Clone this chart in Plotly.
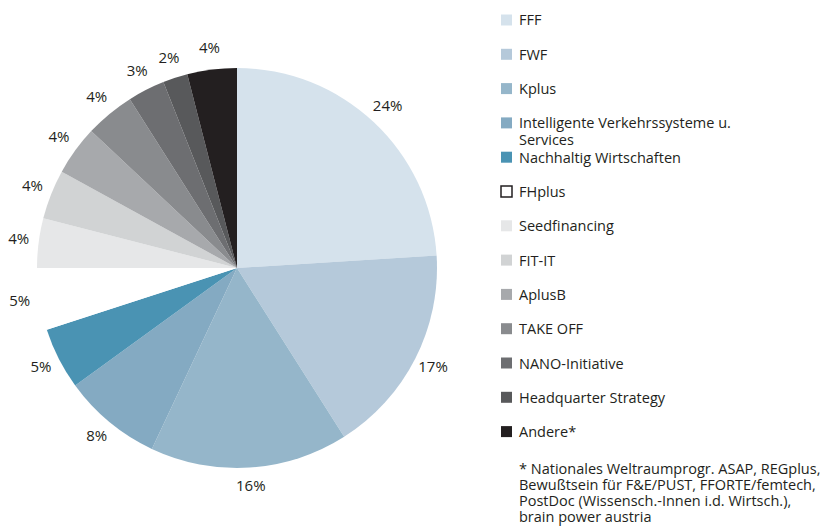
import plotly.graph_objects as go

W, H = 836, 532
OFF = 8  # the page body adds an 8px margin around the figure

labels = [
    "FFF", "FWF", "Kplus", "Intelligente Verkehrssysteme u.<br>Services",
    "Nachhaltig Wirtschaften", "FHplus", "Seedfinancing", "FIT-IT", "AplusB",
    "TAKE OFF", "NANO-Initiative", "Headquarter Strategy", "Andere*",
]
shares = [24, 17, 16, 8, 5, 5, 4, 4, 4, 4, 3, 2, 4]
colors = [
    "#d5e2ec", "#b5c9da", "#95b6ca", "#84aac2", "#4a93b3", "#ffffff",
    "#e6e7e8", "#d1d3d4", "#a7a9ac", "#898b8e", "#6d6e71", "#58595b", "#231f20",
]
footnote = [
    "* Nationales Weltraumprogr. ASAP, REGplus,",
    "Bewußtsein für F&E/PUST, FFORTE/femtech,",
    "PostDoc (Wissensch.-Innen i.d. Wirtsch.),",
    "brain power austria",
]

FONT = "Open Sans"
TXT = "#231f20"


def px(x):
    return (x - OFF) / W


def py(y):
    return 1 - (y - OFF) / H


# pie centre and radius in page pixels
CX, CY, R = 237, 268, 200
RMAX = 1.12

fig = go.Figure()
fig.add_trace(go.Pie(
    labels=labels,
    values=shares,
    sort=False,
    direction="clockwise",
    rotation=0,
    marker=dict(colors=colors, line=dict(width=0)),
    textinfo="none",
    hoverinfo="label+value",
    showlegend=False,
    domain=dict(x=[px(CX - R), px(CX + R)], y=[py(CY + R), py(CY - R)]),
))

# percent labels just outside each slice, at the slice's mid angle
total = sum(shares)
mid_angles, acc = [], 0
for s in shares:
    mid_angles.append((acc + s / 2) / total * 360)
    acc += s

fig.add_trace(go.Scatterpolar(
    r=[1.1] * len(shares),
    theta=mid_angles,
    mode="text",
    text=[f"{s}%" for s in shares],
    textposition="middle center",
    textfont=dict(family=FONT, size=15, color=TXT),
    cliponaxis=False,
    hoverinfo="skip",
    showlegend=False,
))

rp = R * RMAX
fig.update_layout(polar=dict(
    domain=dict(x=[px(CX - rp), px(CX + rp)], y=[py(CY + rp), py(CY - rp)]),
    bgcolor="rgba(0,0,0,0)",
    radialaxis=dict(visible=False, range=[0, RMAX]),
    angularaxis=dict(visible=False, rotation=90, direction="clockwise"),
))

# hand-built legend (fixed spacing like the original layout)
shapes, annotations = [], []
for i, (lab, col) in enumerate(zip(labels, colors)):
    yc = 20 + i * 34.3
    white = col == "#ffffff"
    shapes.append(dict(
        type="rect", xref="paper", yref="paper",
        x0=px(501), x1=px(512), y0=py(yc + 5.5), y1=py(yc - 5.5),
        fillcolor=col,
        line=dict(color=TXT if white else col, width=1.5 if white else 0),
    ))
    for k, part in enumerate(lab.split("<br>")):
        annotations.append(dict(
            xref="paper", yref="paper", x=px(517), y=py(yc + k * 17),
            xanchor="left", yanchor="middle", text=part, showarrow=False,
            font=dict(family=FONT, size=14.5, color=TXT),
        ))

for j, line in enumerate(footnote):
    annotations.append(dict(
        xref="paper", yref="paper", x=px(517), y=py(468 + j * 16),
        xanchor="left", yanchor="middle", text=line, showarrow=False,
        font=dict(family=FONT, size=14.5, color=TXT),
    ))

fig.update_layout(
    width=W, height=H,
    margin=dict(l=0, r=0, t=0, b=0),
    paper_bgcolor="white",
    plot_bgcolor="white",
    shapes=shapes,
    annotations=annotations,
)

fig.write_html("out.html")
